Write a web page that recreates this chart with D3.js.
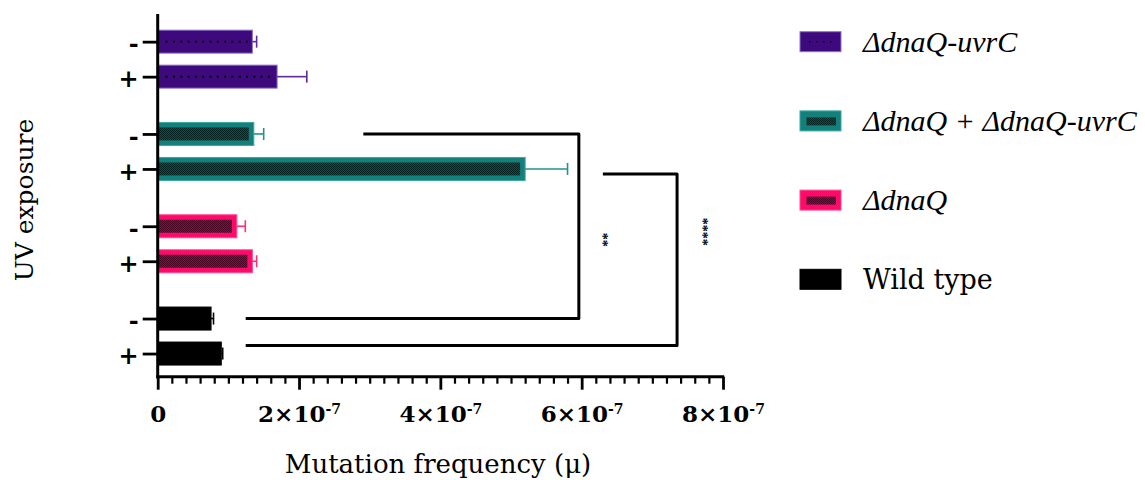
<!DOCTYPE html>
<html><head><meta charset="utf-8">
<script src="https://cdn.jsdelivr.net/npm/d3@7"></script>
<style>body{margin:0;background:#fff} svg{display:block}</style>
</head><body>
<svg id="chart" width="1145" height="480"></svg>
<script>
// ---------------- data ----------------
const groups = ["uvrC", "combo", "dnaQ", "wt"];
const groupLabels = ["ΔdnaQ-uvrC", "ΔdnaQ + ΔdnaQ-uvrC", "ΔdnaQ", "Wild type"];
const uvLevels = ["-", "+"];
const meanMinus = [1.34e-7, 1.36e-7, 1.12e-7, 0.755e-7];
const meanPlus  = [1.69e-7, 5.20e-7, 1.34e-7, 0.90e-7];
const errMinus  = [0.06e-7, 0.14e-7, 0.12e-7, 0.035e-7];
const errPlus   = [0.42e-7, 0.60e-7, 0.06e-7, 0.02e-7];
const xTickValues = [0, 2e-7, 4e-7, 6e-7, 8e-7];
const xTickMantissa = ["0", "2×10", "4×10", "6×10", "8×10"];
const xTickExponent = ["", "-7", "-7", "-7", "-7"];
const compFromGroup = ["combo", "combo"];
const compFromLevel = ["-", "+"];
const compToGroup = ["wt", "wt"];
const compToLevel = ["-", "+"];
const compTopStart = [2.91e-7, 6.30e-7];
const compRight = [5.96e-7, 7.35e-7];
const compBottomStart = [1.245e-7, 1.245e-7];
const compLabels = ["**", "****"];
const compLabelX = [6.30e-7, 7.72e-7];
const xTitle = "Mutation frequency (μ)";
const yTitle = "UV exposure";

// ---------------- styles ----------------
const style = {
  uvrC:  {outer: "#3e097c", edge: "#8f74c6", inner: null, err: "#5b2b99", dots: true},
  combo: {outer: "#13807c", edge: "#3aa7a3", inner: "url(#patTeal)", err: "#26908d", dots: false},
  dnaQ:  {outer: "#ff0a6a", edge: "#ff4d8f", inner: "url(#patPink)", err: "#ff2f7c", dots: false},
  wt:    {outer: "#000000", edge: "#000000", inner: null, err: "#000000", dots: false}
};
const SERIF = "'DejaVu Serif', serif";
const TIMES = "'Liberation Serif', 'Times New Roman', serif";

const svg = d3.select("#chart");
const defs = svg.append("defs");
function checker(id, bg, fg) {
  const p = defs.append("pattern").attr("id", id).attr("patternUnits", "userSpaceOnUse")
    .attr("width", 2).attr("height", 2);
  p.append("rect").attr("width", 2).attr("height", 2).attr("fill", bg);
  p.append("rect").attr("width", 1).attr("height", 1).attr("fill", fg);
  p.append("rect").attr("x", 1).attr("y", 1).attr("width", 1).attr("height", 1).attr("fill", fg);
}
checker("patTeal", "#0f4c49", "#062522");
checker("patPink", "#8c0b47", "#4a0424");

// ---------------- scales ----------------
const x = d3.scaleLinear().domain([0, 8e-7]).range([157.7, 723]);
const yGroup = d3.scaleBand().domain(groups).range([13, 382.2]).padding(0);
const yLevel = d3.scalePoint().domain(uvLevels).range([-17.5, 17.5]);
const rowY = (g, l) => yGroup(g) + yGroup.bandwidth() / 2 + yLevel(l);

const rows = [];
groups.forEach((g, i) => {
  rows.push({g, level: "-", v: meanMinus[i], e: errMinus[i], i});
  rows.push({g, level: "+", v: meanPlus[i], e: errPlus[i], i});
});
const rowKeys = rows.map(r => r.g + "|" + r.level);
const yRow = d3.scaleOrdinal().domain(rowKeys).range(rows.map(r => rowY(r.g, r.level)));

const barH = 23, inset = 5;

// ---------------- bars ----------------
const bars = svg.append("g");
rows.forEach(r => {
  const s = style[r.g];
  const cy = yRow(r.g + "|" + r.level);
  const x0 = x(0), x1 = x(r.v);
  bars.append("rect").attr("x", x0).attr("y", cy - barH / 2).attr("width", x1 - x0).attr("height", barH)
    .attr("fill", s.outer).attr("stroke", s.edge).attr("stroke-width", 1);
  if (s.inner) {
    bars.append("rect").attr("x", x0).attr("y", cy - barH / 2 + inset)
      .attr("width", Math.max(0, x1 - x0 - inset)).attr("height", barH - 2 * inset).attr("fill", s.inner);
  }
  if (s.dots) {
    bars.append("line").attr("x1", x0 + 8).attr("x2", x1 - 4).attr("y1", cy).attr("y2", cy)
      .attr("stroke", "#000").attr("stroke-width", 2).attr("stroke-dasharray", "2,5.3");
  }
  // error bar
  const xe = x(r.v + r.e);
  bars.append("line").attr("x1", x1).attr("x2", xe).attr("y1", cy).attr("y2", cy)
    .attr("stroke", s.err).attr("stroke-width", 1.6);
  bars.append("line").attr("x1", xe).attr("x2", xe).attr("y1", cy - 6).attr("y2", cy + 6)
    .attr("stroke", s.err).attr("stroke-width", 1.6);
});

// ---------------- axes ----------------
const xAxisY = 376.7;
const minorTicks = d3.range(0, 41).map(i => i * 2e-8).filter(v => Math.abs(Math.round(v / 2e-7) * 2e-7 - v) > 1e-9);
svg.append("g").attr("transform", `translate(0,${xAxisY})`)
  .call(d3.axisBottom(x).tickValues(minorTicks).tickSize(7).tickSizeOuter(0).tickFormat(""))
  .call(g => g.select(".domain").remove())
  .call(g => g.selectAll("line").attr("stroke", "#000").attr("stroke-width", 2.2));
const xAx = svg.append("g").attr("transform", `translate(0,${xAxisY})`)
  .call(d3.axisBottom(x).tickValues(xTickValues).tickSize(13).tickSizeOuter(0));
xAx.select(".domain").attr("stroke", "#000").attr("stroke-width", 3)
  .attr("d", `M${x(0) - 1.5},0H${x(8e-7) + 1.2}`);
xAx.selectAll(".tick line").attr("stroke", "#000").attr("stroke-width", 2.8);
xAx.selectAll(".tick text").each(function (d, i) {
  const t = d3.select(this).text(null).attr("y", 45.3).attr("dy", null)
    .attr("font-family", SERIF).attr("font-weight", "bold").attr("font-size", 23).attr("fill", "#000");
  t.append("tspan").text(xTickMantissa[i]);
  if (xTickExponent[i]) t.append("tspan").attr("font-size", 14).attr("dy", -7.5).text(xTickExponent[i]);
});

const yAx = svg.append("g").attr("transform", `translate(${x(0)},0)`)
  .call(d3.axisLeft(yRow).tickSize(15).tickPadding(4).tickFormat(k => k.split("|")[1]));
yAx.select(".domain").remove();
yAx.selectAll(".tick line").attr("stroke", "#000").attr("stroke-width", 2.8);
yAx.selectAll(".tick text").attr("font-family", SERIF).attr("font-weight", "bold")
  .attr("font-size", 24).attr("fill", "#000").attr("dy", "0.42em");
svg.append("line").attr("x1", x(0)).attr("x2", x(0)).attr("y1", 14).attr("y2", xAxisY + 1.5)
  .attr("stroke", "#000").attr("stroke-width", 3);

// ---------------- comparisons ----------------
const topOff = [0, 5], botOff = [0, -8];
compLabels.forEach((lab, i) => {
  const yt = yRow(compFromGroup[i] + "|" + compFromLevel[i]) + topOff[i];
  const yb = yRow(compToGroup[i] + "|" + compToLevel[i]) + botOff[i];
  svg.append("path")
    .attr("d", `M${x(compTopStart[i])},${yt}H${x(compRight[i])}V${yb}H${x(compBottomStart[i])}`)
    .attr("fill", "none").attr("stroke", "#000").attr("stroke-width", 3).attr("stroke-linejoin", "round");
  const ly = yGroup("dnaQ") + yGroup.bandwidth() / 2 + (i === 0 ? -4 : -12);
  svg.append("text").attr("transform", `translate(${x(compLabelX[i])},${ly}) rotate(90)`)
    .attr("text-anchor", "middle").attr("dy", "0.38em")
    .attr("font-family", TIMES).attr("font-weight", "bold").attr("font-size", 14).text(lab);
});

// ---------------- titles ----------------
svg.append("text").attr("x", 438).attr("y", 473).attr("text-anchor", "middle")
  .attr("font-family", SERIF).attr("font-size", 26).attr("fill", "#000").text(xTitle);
svg.append("text").attr("transform", `translate(33,200) rotate(-90)`).attr("text-anchor", "middle")
  .attr("font-family", SERIF).attr("font-size", 25).attr("fill", "#000").text(yTitle);

// ---------------- legend ----------------
const legend = svg.append("g");
groups.forEach((g, i) => {
  const s = style[g];
  const base = 51.7 + i * 79.2;
  const sy = base - 20;
  legend.append("rect").attr("x", 800).attr("y", sy).attr("width", 41).attr("height", 20)
    .attr("fill", s.outer).attr("stroke", s.edge).attr("stroke-width", 1);
  if (s.inner) legend.append("rect").attr("x", 806.5).attr("y", sy + 6.5).attr("width", 29.5).attr("height", 8)
    .attr("fill", s.inner);
  if (s.dots) legend.append("line").attr("x1", 809).attr("x2", 836).attr("y1", sy + 10).attr("y2", sy + 10)
    .attr("stroke", "#000").attr("stroke-width", 1.5).attr("stroke-dasharray", "1.5,5.5");
  const italic = g !== "wt";
  legend.append("text").attr("x", 863).attr("y", base)
    .attr("font-family", italic ? TIMES : SERIF).attr("font-size", italic ? 30 : 27)
    .attr("font-style", italic ? "italic" : "normal")
    .attr("fill", "#000").text(groupLabels[i]);
});
</script>
</body></html>
